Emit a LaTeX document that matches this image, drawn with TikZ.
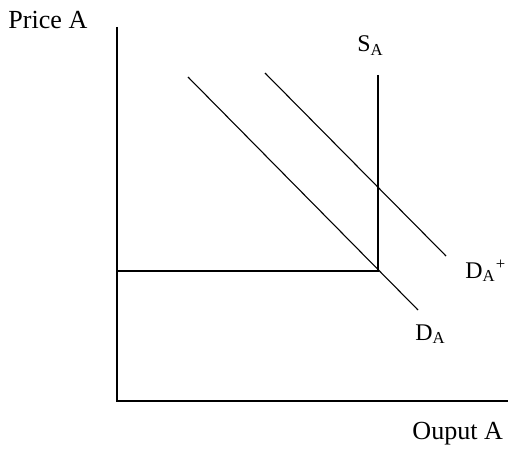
\documentclass[tikz,border=0pt]{standalone}
\usepackage{fontspec}
\setmainfont{Liberation Serif}
\usepackage{tikz}
\usetikzlibrary{positioning, calc}

\begin{document}
\begin{tikzpicture}[
  x=0.46pt, y=-0.46pt,
  curve/.style={line width=0.5pt},
  axislabel/.style={anchor=base west, inner sep=0pt, font=\fontsize{12}{14}\selectfont},
  curvelabel/.style={anchor=base west, inner sep=0pt, font=\fontsize{11}{13}\selectfont}
]
  \useasboundingbox (0,0) rectangle (509,461);

  % axes
  \coordinate (ytop) at (117,27);
  \coordinate (o)    at (117,401);
  \coordinate (xend) at (508,401);
  \draw[curve] (ytop) -- (o) -- (xend);

  \node[axislabel] (price)  at (8,29)   {Price A};
  \node[axislabel] (output) at (412,439) {Ouput A};

  % supply and price
  \coordinate (stop) at (378,75);
  \coordinate (eq)   at (378,271);
  \coordinate (pa)   at (117,271);
  \draw[curve] (stop) -- (eq) -- (pa);
  \node[curvelabel] (slabel) at (357,52) {S\textsubscript{A}};

  % demand curves
  \coordinate (d1a) at (188,77);
  \coordinate (d1b) at (418,310);
  \coordinate (d2a) at (265,73);
  \coordinate (d2b) at (446,256);
  \draw[curve] (d1a) -- (d1b);
  \draw[curve] (d2a) -- (d2b);
  \node[curvelabel] (dlabel)  at (415,340) {D\textsubscript{A}};
  \node[curvelabel] (dplabel) at (465,278) {D\textsubscript{A}\textsuperscript{+}};
\end{tikzpicture}
\end{document}
